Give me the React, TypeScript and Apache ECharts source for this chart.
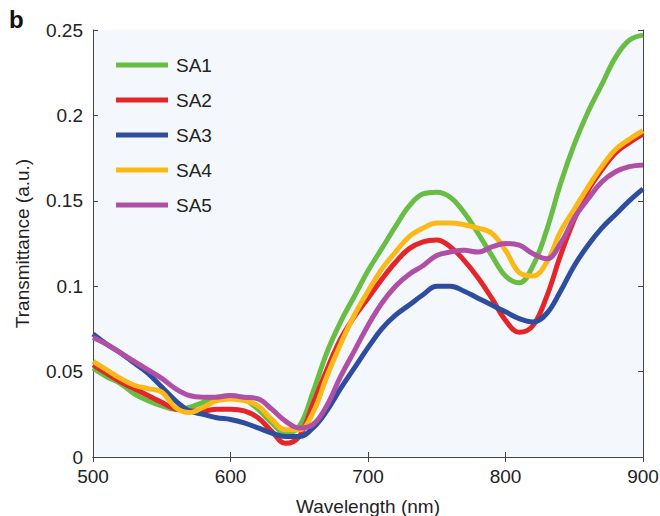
import React, { useEffect, useRef } from "react";
import * as echarts from "echarts";

const wavelengths = [500, 510, 520, 530, 540, 550, 560, 570, 580, 590, 600, 610, 620, 630, 640, 650, 660, 670, 680, 690, 700, 710, 720, 730, 740, 750, 760, 770, 780, 790, 800, 810, 820, 830, 840, 850, 860, 870, 880, 890, 900];

const sa1 = [0.052, 0.047, 0.043, 0.037, 0.033, 0.030, 0.028, 0.029, 0.032, 0.035, 0.036, 0.034, 0.028, 0.020, 0.014, 0.018, 0.038, 0.061, 0.079, 0.094, 0.109, 0.122, 0.135, 0.147, 0.154, 0.155, 0.152, 0.143, 0.131, 0.118, 0.106, 0.102, 0.112, 0.133, 0.160, 0.183, 0.202, 0.218, 0.234, 0.244, 0.247];
const sa2 = [0.054, 0.049, 0.044, 0.040, 0.036, 0.032, 0.028, 0.027, 0.027, 0.028, 0.028, 0.027, 0.023, 0.015, 0.008, 0.012, 0.031, 0.051, 0.069, 0.082, 0.093, 0.104, 0.114, 0.122, 0.126, 0.127, 0.123, 0.115, 0.105, 0.093, 0.080, 0.073, 0.077, 0.094, 0.118, 0.139, 0.156, 0.168, 0.178, 0.184, 0.189];
const sa3 = [0.072, 0.066, 0.061, 0.055, 0.049, 0.041, 0.033, 0.027, 0.025, 0.023, 0.022, 0.020, 0.017, 0.014, 0.012, 0.012, 0.017, 0.027, 0.040, 0.052, 0.064, 0.075, 0.083, 0.089, 0.095, 0.100, 0.100, 0.097, 0.093, 0.089, 0.085, 0.081, 0.079, 0.084, 0.097, 0.112, 0.124, 0.134, 0.142, 0.150, 0.157];
const sa4 = [0.056, 0.051, 0.046, 0.042, 0.040, 0.038, 0.029, 0.026, 0.029, 0.033, 0.034, 0.033, 0.030, 0.022, 0.016, 0.016, 0.026, 0.047, 0.066, 0.083, 0.097, 0.110, 0.120, 0.129, 0.134, 0.137, 0.137, 0.136, 0.134, 0.131, 0.121, 0.108, 0.106, 0.114, 0.132, 0.145, 0.158, 0.170, 0.180, 0.186, 0.191];
const sa5 = [0.070, 0.066, 0.061, 0.056, 0.051, 0.046, 0.040, 0.036, 0.035, 0.035, 0.036, 0.035, 0.034, 0.028, 0.021, 0.017, 0.019, 0.030, 0.047, 0.062, 0.077, 0.090, 0.100, 0.107, 0.112, 0.118, 0.120, 0.121, 0.120, 0.123, 0.125, 0.124, 0.119, 0.116, 0.125, 0.140, 0.151, 0.161, 0.167, 0.170, 0.171];

const seriesNames = ["SA1", "SA2", "SA3", "SA4", "SA5"];
const seriesValues = [sa1, sa2, sa3, sa4, sa5];
const colors = ["#69bd45", "#e4262b", "#2f4d9e", "#fbb918", "#b04fa6"];

const FONT = "'Liberation Sans', Arial, Helvetica, sans-serif";
const FS = 19;

export default function App() {
  const ref = useRef<HTMLDivElement>(null);
  useEffect(() => {
    if (!ref.current) return;
    const chart = echarts.init(ref.current, null, { renderer: "svg" });
    const axisLine = { show: true, lineStyle: { color: "#444", width: 1 } };
    const tick = { show: true, inside: true, length: 5, lineStyle: { color: "#444" } };
    chart.setOption({
      animation: false,
      textStyle: { fontFamily: FONT },
      grid: {
        left: 93,
        right: 17,
        top: 30,
        bottom: 59,
        outerBoundsMode: "none",
        containLabel: false,
        show: true,
        backgroundColor: "#f4f8fc",
        borderWidth: 0,
      },
      graphic: [
        {
          type: "text",
          left: 9,
          top: 7,
          style: { text: "b", font: `bold 24px ${FONT}`, fill: "#111" },
        },
      ],
      legend: {
        orient: "vertical",
        left: 116,
        top: 54,
        padding: 0,
        itemWidth: 52,
        itemHeight: 5,
        itemGap: 13,
        icon: "rect",
        data: seriesNames,
        textStyle: { fontSize: FS, color: "#222", lineHeight: 22, padding: [0, 0, 0, 3], fontFamily: FONT },
      },
      xAxis: [
        {
          type: "value",
          min: 500,
          max: 900,
          interval: 100,
          name: "Wavelength (nm)",
          nameLocation: "middle",
          nameGap: 40,
          nameTextStyle: { fontSize: FS, color: "#222", fontFamily: FONT },
          axisLine,
          axisTick: tick,
          splitLine: { show: false },
          axisLabel: { fontSize: FS, color: "#222", margin: 10, fontFamily: FONT },
        },
        {
          type: "value",
          position: "top",
          min: 500,
          max: 900,
          interval: 100,
          axisLine,
          axisTick: tick,
          splitLine: { show: false },
          axisLabel: { show: false },
        },
      ],
      yAxis: [
        {
          type: "value",
          min: 0,
          max: 0.25,
          interval: 0.05,
          name: "Transmittance (a.u.)",
          nameLocation: "middle",
          nameGap: 61,
          nameTextStyle: { fontSize: FS, color: "#222", fontFamily: FONT },
          axisLine,
          axisTick: tick,
          splitLine: { show: false },
          axisLabel: {
            fontSize: FS,
            color: "#222",
            margin: 10,
            fontFamily: FONT,
            formatter: (v: number) => String(parseFloat(v.toFixed(2))),
          },
        },
        {
          type: "value",
          position: "right",
          min: 0,
          max: 0.25,
          interval: 0.05,
          axisLine,
          axisTick: tick,
          splitLine: { show: false },
          axisLabel: { show: false },
        },
      ],
      series: seriesNames.map((name, i) => ({
        name,
        type: "line",
        xAxisIndex: 0,
        yAxisIndex: 0,
        smooth: 0.4,
        showSymbol: false,
        symbol: "none",
        color: colors[i],
        lineStyle: { width: 5, color: colors[i] },
        data: wavelengths.map((w, j) => [w, seriesValues[i][j]]),
      })),
    });
    return () => chart.dispose();
  }, []);
  return (
    <div
      ref={ref}
      style={{ position: "absolute", left: 0, top: 0, width: 660, height: 516, background: "#fff" }}
    />
  );
}
